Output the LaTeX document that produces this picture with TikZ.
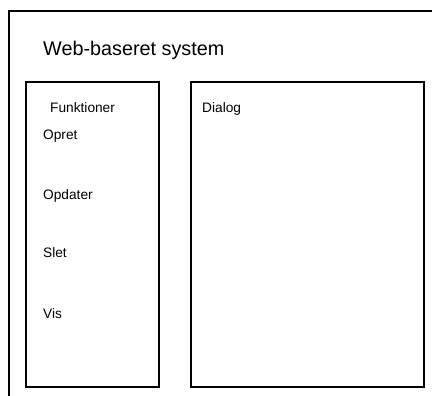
\documentclass[tikz,border=0pt]{standalone}
\usepackage{fontspec}
\setmainfont{Liberation Sans}
\begin{document}
\begin{tikzpicture}[x=1pt, y=-1pt,
    boks/.style={draw, line width=1.6pt, anchor=north west, inner sep=0pt},
    titel/.style={anchor=base west, inner sep=0pt, font=\fontsize{19.8}{24}\selectfont},
    tekst/.style={anchor=base west, inner sep=0pt, font=\fontsize{13.7}{16}\selectfont}]
    \useasboundingbox (0,0) rectangle (432,396);
    \clip (0,0) rectangle (432,396);

    % Ydre system (skaaret af ved kanten)
    \draw[line width=1.6pt] (9,11) rectangle (450,420);
    \node[titel] (system) at (43,56) {Web-baseret system};

    % Funktioner
    \node[boks, minimum width=133pt, minimum height=305pt] (funk) at (25,81) {};
    \node[tekst] (funktioner) at (50,113) {Funktioner};
    \node[tekst] (opret) at (43,140) {Opret};
    \node[tekst] (opdater) at (43,200) {Opdater};
    \node[tekst] (slet) at (43,258) {Slet};
    \node[tekst] (vis) at (43,319) {Vis};

    % Dialog
    \node[boks, minimum width=233pt, minimum height=305pt] (dlg) at (190,81) {};
    \node[tekst] (dialog) at (202,113) {Dialog};
\end{tikzpicture}
\end{document}
